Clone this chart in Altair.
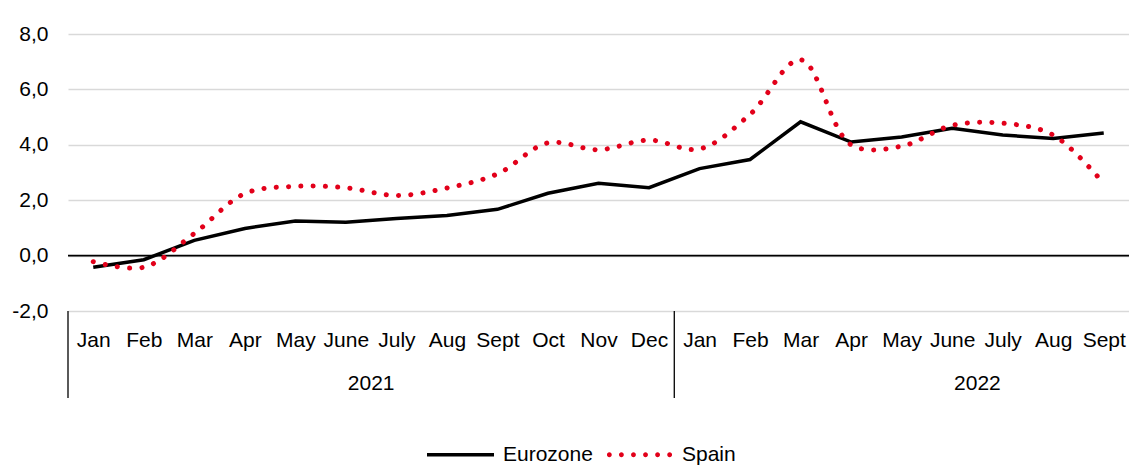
import altair as alt
import pandas as pd

months = ["Jan", "Feb", "Mar", "Apr", "May", "June", "July", "Aug", "Sept", "Oct", "Nov", "Dec",
          "Jan", "Feb", "Mar", "Apr", "May", "June", "July", "Aug", "Sept"]
years = ["2021"] * 12 + ["2022"] * 9
eurozone = [-0.42, -0.15, 0.55, 0.98, 1.25, 1.2, 1.34, 1.45, 1.67, 2.25, 2.61, 2.45,
            3.14, 3.47, 4.83, 4.1, 4.28, 4.6, 4.35, 4.23, 4.43]
spain = [-0.22, -0.42, 0.8, 2.24, 2.5, 2.45, 2.17, 2.44, 2.95, 4.07, 3.82, 4.17,
         3.85, 5.1, 7.07, 4.0, 3.95, 4.7, 4.78, 4.35, 2.6]
series = ["Eurozone", "Spain"]
colors = ["#000000", "#E2001A"]

FONT = "Liberation Sans Narrow, Arial Narrow, Liberation Sans, Arial"
FS = 21
W, H = 1061, 277

idx = list(range(len(months)))
df = pd.DataFrame({
    "idx": idx * 2,
    "month": months * 2,
    "year": years * 2,
    "series": [series[0]] * len(idx) + [series[1]] * len(idx),
    "value": eurozone + spain,
})
base_df = pd.DataFrame({"idx": idx, "month": months, "year": years})

month_expr = "[" + ",".join('"%s"' % m for m in months) + "][datum.value]"

xscale = alt.Scale(domain=[-0.5, len(months) - 0.5], nice=False, zero=False)
x = alt.X("idx:Q", scale=xscale,
          axis=alt.Axis(values=idx, labelExpr=month_expr, ticks=False, domain=False, grid=False,
                        labelPadding=18, labelFontSize=FS, labelFont=FONT, labelColor="#000",
                        labelBaseline="top", title=None, labelOverlap=False, labelFlush=False))
yscale = alt.Scale(domain=[-2, 8], nice=False)
y = alt.Y("value:Q", scale=yscale,
          axis=alt.Axis(values=[-2, 0, 2, 4, 6, 8], ticks=False, domain=False, grid=True,
                        gridColor="#D9D9D9", gridWidth=1.6,
                        labelExpr="replace(replace(format(datum.value, '.1f'), '.', ','), '\u2212', '-')",
                        labelPadding=20, labelFontSize=FS, labelFont=FONT, labelColor="#000",
                        title=None))

base = alt.Chart(df)

zero = alt.Chart(pd.DataFrame({"v": [0]})).mark_rule(color="#000", strokeWidth=1.6).encode(
    y=alt.Y("v:Q", scale=yscale)
)

ez = base.transform_filter(alt.datum.series == series[0]).mark_line(
    strokeWidth=3.5, strokeJoin="miter", color=colors[0]
).encode(x=x, y=y)

sp = base.transform_filter(alt.datum.series == series[1]).mark_line(
    strokeWidth=5.0, strokeCap="round", strokeDash=[0.1, 12.2], interpolate="catmull-rom",
    color=colors[1]
).encode(x=x, y=y)

# group separators and year labels
seps = alt.Chart(base_df).transform_aggregate(
    start="min(idx)", groupby=["year"]
).transform_calculate(pos="datum.start - 0.5").mark_rule(color="#000", strokeWidth=1.3).encode(
    x=alt.X("pos:Q", scale=xscale),
    y=alt.value(H),
    y2=alt.value(H + 87),
)
year_lbl = alt.Chart(base_df).transform_aggregate(
    start="min(idx)", groupby=["year"]
).transform_calculate(pos="datum.start + 5.5").mark_text(
    font=FONT, fontSize=FS, color="#000", baseline="middle"
).encode(
    x=alt.X("pos:Q", scale=xscale),
    y=alt.value(H + 73),
    text="year:N",
)

# legend (from an empty point layer with custom symbols)
line_path = "M-1,-0.052H1V0.052H-1Z"
r = 0.072
dots = []
for cx in [-0.9, -0.54, -0.18, 0.18, 0.54, 0.9]:
    dots.append("M%.3f,0a%.3f,%.3f 0 1,0 %.3f,0a%.3f,%.3f 0 1,0 %.3f,0" % (cx - r, r, r, 2 * r, r, r, -2 * r))
dot_path = "".join(dots)

legend = alt.Legend(title=None, orient="none", direction="horizontal",
                    legendX=359, legendY=387, symbolSize=4489,
                    symbolStrokeWidth=0, labelFont=FONT, labelFontSize=21,
                    labelColor="#000", labelOffset=9, columnPadding=13,
                    padding=0, symbolOpacity=1)

leg = base.transform_filter("false").mark_point(filled=True, opacity=1).encode(
    x=x, y=y,
    color=alt.Color("series:N", scale=alt.Scale(domain=series, range=colors), legend=legend),
    shape=alt.Shape("series:N", scale=alt.Scale(domain=series, range=[line_path, dot_path]),
                    legend=legend),
)

chart = alt.layer(zero, seps, year_lbl, ez, sp, leg).properties(
    width=W, height=H,
    background="white",
    autosize=alt.AutoSizeParams(type="none"),
    padding={"left": 60, "top": 26, "right": 0, "bottom": 157},
).configure_view(strokeWidth=0, stroke=None)

chart.save("out.html", embed_options={"renderer": "svg", "actions": False})
